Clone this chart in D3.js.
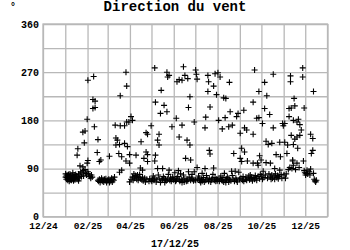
<!DOCTYPE html>
<html>
<head>
<meta charset="utf-8">
<script src="https://cdn.jsdelivr.net/npm/d3@7"></script>
<style>
  body { margin: 0; background: #fff; }
  svg text { font-family: "Liberation Mono", "DejaVu Sans Mono", monospace; font-weight: bold; fill: #000; }
</style>
</head>
<body>
<svg id="chart" width="350" height="250"></svg>
<script>
// readings of 2025, [day of month, direction in degrees]
const jan = [[1,80],[1,74],[2,76],[2,70],[3,73],[3,78],[4,72],[4,68],[5,75],[5,79],[6,70],[6,66],[7,74],[7,80],[8,69],[8,76],[9,72],[9,68],[10,77],[10,73],[11,82],[11,70],[12,75],[12,67],[13,78],[13,71],[14,73],[14,69],[15,79],[15,74],[16,76],[17,115],[17,70],[18,127],[18,74],[19,67],[19,80],[20,72],[21,95],[21,78],[22,84],[23,75],[24,82],[25,158],[25,93],[26,86],[26,76],[27,138],[28,160],[28,88],[29,81],[30,78],[31,100],[31,182]];
const feb = [[1,255],[1,105],[1,84],[2,80],[3,76],[4,75],[5,72],[6,78],[7,74],[8,219],[8,202],[9,262],[10,168],[11,216],[11,204],[14,120],[15,144],[15,68],[16,66],[17,103],[17,70],[18,64],[19,106],[19,68],[20,72],[21,66],[22,69],[23,65],[24,70],[25,67],[26,71],[27,64],[28,68]];
const mar = [[1,67],[2,70],[3,113],[3,64],[4,69],[5,66],[6,72],[7,65],[8,70],[9,68],[10,74],[11,171],[12,147],[12,134],[14,143],[16,118],[17,135],[17,83],[18,226],[18,170],[20,112],[20,87],[24,170],[24,137],[26,270],[26,104],[27,244],[27,177],[28,131],[30,177],[31,116],[31,100],[31,65]];
const apr = [[2,187],[2,70],[4,180],[4,74],[5,68],[6,80],[7,72],[8,77],[9,115],[9,75],[10,70],[11,78],[12,68],[13,73],[14,79],[15,91],[15,71],[16,140],[17,69],[18,87],[18,74],[19,67],[20,109],[21,72],[22,65],[23,157],[23,121],[24,70],[25,154],[25,116],[25,103],[27,66],[28,71],[30,170],[30,68]];
const may = [[1,66],[2,70],[3,76],[4,68],[5,278],[5,104],[5,72],[6,214],[6,115],[7,65],[8,69],[9,143],[9,90],[10,78],[11,154],[11,134],[12,71],[13,193],[13,64],[14,236],[15,68],[16,90],[16,70],[17,75],[18,208],[18,72],[19,64],[20,69],[21,67],[22,270],[22,196],[23,261],[23,70],[24,79],[25,264],[25,87],[26,68],[27,72],[28,66],[29,168],[29,70],[30,74],[31,69]];
const jun = [[1,70],[2,82],[3,66],[4,184],[4,68],[5,252],[5,72],[6,75],[7,86],[8,256],[8,149],[8,69],[9,66],[10,80],[11,70],[12,255],[12,171],[12,64],[13,68],[14,280],[14,78],[15,65],[16,264],[16,71],[17,109],[18,66],[19,143],[19,70],[20,258],[20,67],[21,204],[21,84],[22,74],[23,224],[23,134],[24,106],[24,68],[25,72],[26,79],[27,70],[28,67],[29,177],[29,84],[30,69]];
const jul = [[1,274],[1,68],[2,266],[3,257],[3,92],[4,70],[5,76],[6,72],[7,67],[8,64],[9,70],[10,81],[10,66],[11,69],[12,73],[13,65],[14,166],[14,90],[15,186],[15,68],[16,77],[17,70],[18,264],[18,234],[19,252],[19,66],[20,124],[20,72],[21,205],[21,117],[22,65],[23,69],[24,71],[25,79],[26,244],[26,91],[27,68],[28,267],[28,73],[29,66],[30,228],[30,70],[31,67]];
const aug = [[1,269],[1,70],[2,180],[3,66],[4,261],[4,72],[5,76],[6,69],[7,164],[7,67],[8,73],[9,222],[9,65],[10,81],[11,185],[11,68],[12,221],[12,64],[13,70],[14,74],[15,72],[16,168],[16,65],[17,251],[17,69],[18,196],[19,67],[20,85],[21,171],[21,77],[22,70],[23,118],[24,66],[25,85],[26,72],[27,187],[27,68],[28,65],[29,193],[30,83],[31,70]];
const sep = [[1,156],[1,109],[2,72],[3,128],[3,103],[4,68],[5,75],[6,199],[6,66],[7,166],[7,121],[8,70],[9,74],[10,162],[10,68],[11,104],[12,72],[13,76],[14,69],[15,78],[16,71],[17,74],[18,67],[19,214],[19,154],[19,100],[20,73],[21,274],[21,70],[22,77],[23,72],[24,184],[24,68],[25,100],[26,96],[26,75],[27,234],[27,185],[28,114],[28,71],[29,79],[30,106]];
const oct = [[1,76],[2,174],[2,70],[3,85],[4,73],[5,251],[5,202],[6,78],[7,141],[7,101],[8,226],[9,72],[10,135],[11,80],[12,191],[13,100],[13,74],[14,70],[15,137],[15,78],[16,72],[17,266],[17,166],[18,76],[19,90],[19,70],[20,80],[21,116],[22,73],[23,77],[24,71],[25,75],[26,139],[26,87],[27,112],[28,79],[29,72],[30,174],[31,170]];
const nov = [[1,78],[2,174],[2,139],[3,72],[4,80],[5,118],[6,134],[7,88],[8,202],[8,187],[9,92],[10,263],[10,252],[11,203],[11,152],[12,90],[13,106],[13,104],[14,180],[14,135],[14,96],[15,221],[16,207],[16,145],[17,88],[19,177],[19,149],[19,100],[20,128],[21,182],[22,92],[23,172],[23,152],[25,162],[27,278],[27,261],[28,104],[29,203],[29,86],[30,82]];
const dec = [[1,78],[2,81],[3,87],[4,80],[6,84],[7,78],[8,154],[8,89],[9,118],[11,146],[11,124],[12,234],[12,81],[13,70],[14,67],[15,65],[16,68]];

const months = [jan, feb, mar, apr, may, jun, jul, aug, sep, oct, nov, dec];
const yTicks = [0, 90, 180, 270, 360];
const yGrid = [0, 45, 90, 135, 180, 225, 270, 315, 360];
const title = 'Direction du vent';
const unit = '°';
const stamp = '17/12/25';

const points = months.flatMap((m, i) => m.map(([d, v]) => ({ date: new Date(2025, i, d, 12), dir: v })));

const svg = d3.select('#chart');
const plotLeft = 43, plotRight = 327.5, plotTop = 24, plotBottom = 216.7;

const x = d3.scaleTime()
  .domain([new Date(2024, 11, 1), new Date(2026, 0, 1)])
  .range([plotLeft, plotRight]);

const y = d3.scaleLinear()
  .domain([0, 360])
  .range([plotBottom, plotTop]);

// grid
const gx = svg.append('g')
  .attr('transform', `translate(0,${plotBottom})`)
  .call(d3.axisBottom(x).ticks(d3.timeMonth.every(1)).tickSize(-(plotBottom - plotTop)).tickFormat(''));
const gy = svg.append('g')
  .attr('transform', `translate(${plotLeft},0)`)
  .call(d3.axisLeft(y).tickValues(yGrid).tickSize(-(plotRight - plotLeft)).tickFormat(''));
[gx, gy].forEach(g => {
  g.select('.domain').remove();
  g.selectAll('line').attr('stroke', '#b8b8b8').attr('stroke-width', 1.3);
});

svg.append('rect')
  .attr('x', plotLeft).attr('y', plotTop)
  .attr('width', plotRight - plotLeft).attr('height', plotBottom - plotTop)
  .attr('fill', 'none').attr('stroke', '#b8b8b8').attr('stroke-width', 1.3);

// labels
const labelMonths = d3.timeMonth.range(new Date(2024, 11, 1), new Date(2026, 0, 1)).filter(d => d.getMonth() % 2 === 1);
const ax = svg.append('g')
  .attr('transform', `translate(0,${plotBottom})`)
  .call(d3.axisBottom(x).tickValues(labelMonths).tickFormat(d3.timeFormat('%m/%y')).tickSize(0).tickPadding(5.5));
const ay = svg.append('g')
  .attr('transform', `translate(${plotLeft},0)`)
  .call(d3.axisLeft(y).tickValues(yTicks).tickSize(0).tickPadding(4));
[ax, ay].forEach(g => {
  g.select('.domain').remove();
  g.attr('font-family', null).attr('font-size', null);
});
ax.selectAll('text').style('font-size', '9.5px');
ay.selectAll('text').style('font-size', '10px');

// marks
svg.append('g')
  .selectAll('path')
  .data(points)
  .join('path')
  .attr('transform', d => `translate(${x(d.date)},${y(d.dir)})`)
  .attr('d', 'M-3,0H3M0,-3V3')
  .attr('stroke', '#000')
  .attr('stroke-width', 1.1)
  .attr('fill', 'none');

svg.append('text')
  .attr('x', 175).attr('y', 11)
  .attr('text-anchor', 'middle')
  .style('font-size', '14px')
  .text(title);

svg.append('text')
  .attr('x', 13).attr('y', 10)
  .attr('text-anchor', 'middle')
  .style('font-size', '10px')
  .text(unit);

svg.append('text')
  .attr('x', 175).attr('y', 247)
  .attr('text-anchor', 'middle')
  .style('font-size', '10px')
  .text(stamp);
</script>
</body>
</html>
